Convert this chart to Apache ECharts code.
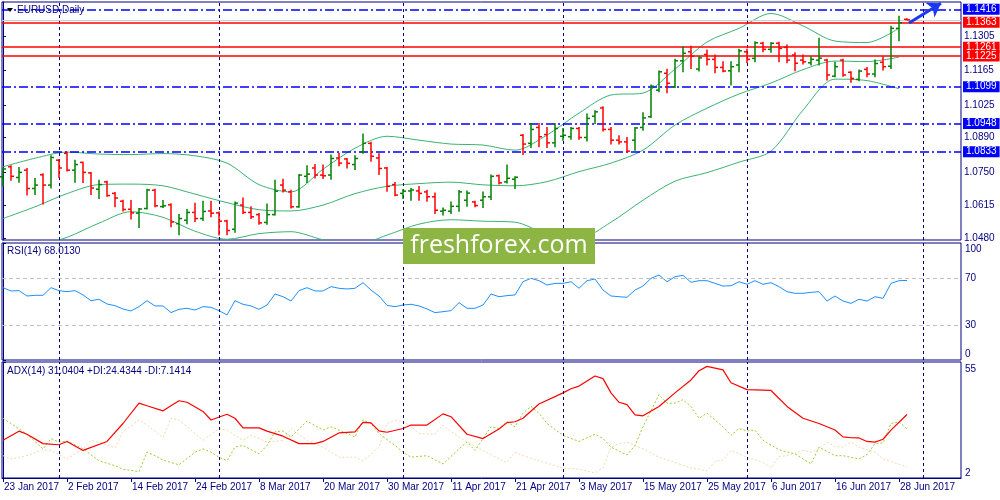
<!DOCTYPE html>
<html>
<head>
<meta charset="utf-8"/>
<title>EURUSD Daily</title>
<script src="https://cdn.jsdelivr.net/npm/echarts@6.0.0/dist/echarts.min.js"></script>
<style>
  html, body { margin: 0; padding: 0; background: #fff; }
  #chart { width: 1000px; height: 500px; }
</style>
</head>
<body>
<div id="chart"></div>
<script>
// bar index 0 = 23 Jan 2017, one bar per trading day
var dateLabels = ['23 Jan 2017', '2 Feb 2017', '14 Feb 2017', '24 Feb 2017', '8 Mar 2017', '20 Mar 2017',
  '30 Mar 2017', '11 Apr 2017', '21 Apr 2017', '3 May 2017', '15 May 2017', '25 May 2017',
  '6 Jun 2017', '16 Jun 2017', '28 Jun 2017'];
var labelBars = [0, 8, 16, 24, 32, 40, 48, 56, 64, 72, 80, 88, 96, 104, 112];
var monthStarts = [7, 27, 50, 70, 93, 115];

var priceTicks = [1.1305, 1.1165, 1.1025, 1.0890, 1.0750, 1.0615, 1.0480];
var redLevels = [1.1363, 1.1261, 1.1225];
var blueLevels = [1.1416, 1.1099, 1.0948, 1.0833];
var arrowFrom = [113.25, 1.1360];
var arrowTo = [117.25, 1.1441];

var openArr = [1.0730,1.0771,1.0727,1.0757,1.0682,1.0738,1.0696,1.0798,1.0826,1.0757,
  1.0789,1.0746,1.0679,1.0709,1.0662,1.0630,1.0597,1.0581,1.0600,1.0675,
  1.0608,1.0615,1.0538,1.0552,1.0584,1.0559,1.0590,1.0582,1.0549,1.0515,
  1.0614,1.0584,1.0575,1.0543,1.0575,1.0696,1.0668,1.0607,1.0732,1.0766,
  1.0737,1.0737,1.0807,1.0803,1.0780,1.0832,1.0867,1.0807,1.0766,1.0698,
  1.0662,1.0672,1.0672,1.0668,1.0648,1.0589,1.0589,1.0609,1.0634,1.0627,
  1.0634,1.0648,1.0734,1.0709,1.0720,1.0900,1.0867,1.0932,1.0903,1.0869,
  1.0896,1.0894,1.0928,1.0891,1.0978,1.1012,1.0924,1.0880,1.0873,1.0880,
  1.0932,1.0976,1.1085,1.1154,1.1099,1.1205,1.1242,1.1171,1.1231,1.1211,
  1.1178,1.1164,1.1188,1.1242,1.1215,1.1277,1.1252,1.1277,1.1260,1.1229,
  1.1208,1.1197,1.1208,1.1208,1.1142,1.1208,1.1158,1.1129,1.1170,1.1151,
  1.1199,1.1183,1.1338,1.1375];
var highArr = [1.0766,1.0775,1.0768,1.0764,1.0723,1.0742,1.0816,1.0801,1.0830,1.0798,
  1.0790,1.0748,1.0716,1.0712,1.0666,1.0634,1.0633,1.0600,1.0679,1.0679,
  1.0633,1.0620,1.0575,1.0596,1.0622,1.0630,1.0630,1.0586,1.0552,1.0627,
  1.0643,1.0607,1.0580,1.0618,1.0716,1.0720,1.0675,1.0739,1.0775,1.0780,
  1.0778,1.0819,1.0826,1.0805,1.0816,1.0905,1.0871,1.0824,1.0768,1.0707,
  1.0678,1.0682,1.0690,1.0675,1.0664,1.0602,1.0627,1.0674,1.0672,1.0630,
  1.0668,1.0737,1.0737,1.0778,1.0730,1.0903,1.0948,1.0948,1.0932,1.0948,
  1.0928,1.0932,1.0932,1.0987,1.1000,1.1017,1.0932,1.0898,1.0891,1.0932,
  1.0992,1.1106,1.1163,1.1170,1.1211,1.1263,1.1265,1.1222,1.1249,1.1229,
  1.1201,1.1201,1.1252,1.1252,1.1283,1.1281,1.1279,1.1281,1.1270,1.1238,
  1.1229,1.1222,1.1297,1.1211,1.1199,1.1211,1.1160,1.1167,1.1178,1.1208,
  1.1222,1.1347,1.1388,1.1377];
var lowArr = [1.0693,1.0716,1.0708,1.0655,1.0657,1.0618,1.0684,1.0727,1.0754,1.0708,
  1.0707,1.0657,1.0641,1.0650,1.0607,1.0590,1.0557,1.0522,1.0598,1.0607,
  1.0604,1.0525,1.0492,1.0538,1.0547,1.0551,1.0566,1.0491,1.0492,1.0503,
  1.0580,1.0559,1.0536,1.0536,1.0573,1.0668,1.0602,1.0605,1.0707,1.0725,
  1.0723,1.0720,1.0775,1.0766,1.0760,1.0826,1.0794,1.0739,1.0671,1.0652,
  1.0641,1.0634,1.0634,1.0630,1.0580,1.0573,1.0580,1.0589,1.0609,1.0607,
  1.0604,1.0637,1.0700,1.0705,1.0682,1.0821,1.0850,1.0853,1.0850,1.0853,
  1.0880,1.0884,1.0884,1.0877,1.0948,1.0918,1.0864,1.0864,1.0832,1.0839,
  1.0921,1.0973,1.1078,1.1074,1.1096,1.1160,1.1174,1.1163,1.1188,1.1156,
  1.1160,1.1106,1.1160,1.1197,1.1201,1.1242,1.1240,1.1201,1.1197,1.1164,
  1.1192,1.1188,1.1188,1.1126,1.1140,1.1142,1.1117,1.1123,1.1140,1.1140,
  1.1167,1.1174,1.1287,1.1372];
var closeArr = [1.0762,1.0732,1.0748,1.0682,1.0696,1.0696,1.0809,1.0766,1.0757,1.0780,
  1.0748,1.0684,1.0698,1.0653,1.0643,1.0596,1.0582,1.0598,1.0676,1.0611,
  1.0611,1.0545,1.0559,1.0584,1.0559,1.0588,1.0581,1.0548,1.0510,1.0622,
  1.0584,1.0566,1.0541,1.0575,1.0671,1.0675,1.0607,1.0737,1.0741,1.0737,
  1.0734,1.0805,1.0786,1.0785,1.0805,1.0867,1.0814,1.0764,1.0691,1.0655,
  1.0671,1.0676,1.0662,1.0648,1.0593,1.0593,1.0609,1.0668,1.0663,1.0612,
  1.0648,1.0732,1.0705,1.0724,1.0728,1.0864,1.0924,1.0894,1.0869,1.0928,
  1.0900,1.0928,1.0891,1.0969,1.0996,1.0924,1.0880,1.0873,1.0835,1.0930,
  1.0971,1.1101,1.1160,1.1113,1.1205,1.1236,1.1224,1.1217,1.1211,1.1178,
  1.1163,1.1181,1.1246,1.1211,1.1279,1.1252,1.1277,1.1256,1.1208,1.1195,
  1.1201,1.1211,1.1216,1.1147,1.1181,1.1147,1.1133,1.1163,1.1151,1.1194,
  1.1181,1.1338,1.1361,1.1373];

// Bollinger bands (20, 2) read every 4 bars
var bbStep = 4;
var bbUpper = [1.0771,1.0806,1.0831,1.0823,1.0821,1.0825,1.0816,1.0786,1.0698,1.0668,
  1.0761,1.0847,1.0896,1.0880,1.0864,1.0860,1.0839,1.0901,1.0991,1.1065,
  1.1073,1.1171,1.1282,1.1338,1.1399,1.1348,1.1286,1.1280,1.1339];
var bbMid = [1.0559,1.0607,1.0661,1.0698,1.0700,1.0693,1.0659,1.0624,1.0595,1.0590,
  1.0614,1.0661,1.0691,1.0702,1.0708,1.0697,1.0693,1.0710,1.0751,1.0786,
  1.0839,1.0942,1.1011,1.1069,1.1114,1.1169,1.1204,1.1202,1.1220];
var bbLow = [1.0429,1.0445,1.0482,1.0540,1.0587,1.0564,1.0507,1.0474,1.0497,1.0505,
  1.0472,1.0450,1.0491,1.0536,1.0554,1.0548,1.0544,1.0495,1.0478,1.0544,
  1.0634,1.0712,1.0747,1.0790,1.0835,1.1003,1.1130,1.1124,1.1091];

var rsi = [61.8,59.0,59.3,54.7,55.3,55.3,61.8,59.3,58.4,59.3,
  55.6,50.7,51.9,47.9,46.4,43.6,41.9,45.6,50.7,46.2,
  46.2,40.5,43.3,44.2,42.7,45.6,45.0,42.2,38.5,50.7,
  47.6,46.2,43.3,47.0,56.4,54.1,50.4,59.3,61.8,59.0,
  59.0,62.7,61.3,60.7,61.3,66.1,59.8,54.7,46.7,45.6,
  47.0,47.6,46.2,43.6,40.5,41.3,42.2,49.0,44.2,44.2,
  47.0,56.4,54.1,55.0,55.6,66.9,69.8,67.8,64.1,65.5,
  65.5,66.9,61.3,67.8,69.2,59.8,54.7,54.1,53.6,59.8,
  63.2,69.8,72.6,66.9,71.2,72.4,66.4,67.8,67.8,65.5,
  63.2,63.5,66.9,64.7,67.8,64.7,66.1,62.7,58.4,57.0,
  57.0,57.8,58.4,50.4,54.7,50.4,48.4,51.9,50.4,54.1,
  52.7,65.5,67.8,68.0];
var rsiTicks = [0, 30, 70, 100];
var rsiLevels = [70, 30];

// [bar, value]
var adx = [[0,19.2],[2,23.4],[3,22.0],[5,17.7],[7,17.2],[8,18.7],[10,14.6],[13,18.7],[15,26.9],[17,36.2],
  [18,35.0],[20,32.7],[22,37.3],[23,36.6],[25,32.4],[26,28.5],[28,31.1],[29,29.3],[30,24.9],[32,24.9],
  [33,23.4],[35,21.1],[37,17.7],[39,17.7],[40,18.7],[42,22.6],[44,23.1],[45,27.4],[46,27.2],[47,23.5],
  [48,22.9],[50,24.6],[51,26.2],[53,26.2],[55,31.3],[56,30.0],[58,22.0],[60,20.0],[62,24.4],[63,27.3],
  [64,27.7],[65,29.3],[67,35.8],[70,40.9],[71,42.8],[72,44.0],[74,48.6],[75,47.4],[76,40.9],[77,36.6],
  [78,35.5],[79,30.8],[80,30.4],[82,34.7],[84,40.9],[86,46.8],[87,51.0],[88,53.0],[90,51.4],[91,45.5],
  [93,42.4],[96,42.0],[98,34.7],[100,29.3],[102,26.9],[104,23.9],[105,20.8],[106,20.4],[107,20.3],[108,18.7],
  [109,18.4],[110,19.7],[111,23.9],[113,31.0]];
var plusDi = [[0,29.3],[1,26.9],[3,22.0],[5,15.3],[6,20.0],[7,18.4],[8,18.9],[10,15.3],[12,9.9],[14,7.6],
  [15,6.0],[17,4.9],[18,13.8],[19,12.2],[20,10.2],[22,8.0],[24,13.8],[25,15.3],[26,13.8],[27,11.5],
  [28,9.9],[29,16.1],[30,16.9],[32,13.0],[33,16.9],[34,23.1],[35,23.5],[36,20.7],[38,28.0],[40,23.9],
  [41,25.4],[42,23.9],[44,20.7],[45,28.5],[46,26.9],[47,22.3],[49,16.9],[50,13.8],[51,11.5],[53,12.2],
  [55,8.4],[57,15.3],[58,18.4],[59,14.6],[61,25.4],[62,24.6],[63,27.7],[64,25.4],[65,31.6],[66,34.7],
  [67,31.6],[68,26.9],[70,21.5],[72,18.7],[74,22.0],[75,20.0],[76,16.1],[78,12.5],[79,16.9],[80,25.4],
  [82,40.1],[83,36.2],[84,36.2],[85,37.8],[86,34.7],[87,29.3],[88,31.6],[90,25.4],[91,21.5],[92,24.6],
  [93,23.5],[94,23.9],[95,19.2],[97,14.9],[99,13.0],[101,8.4],[102,16.1],[104,12.2],[105,12.2],[107,10.7],
  [108,12.7],[109,17.7],[110,18.0],[111,26.9],[112,27.7],[113,24.4]];
var minusDi = [[0,12.2],[1,10.7],[3,12.2],[5,14.9],[6,14.6],[8,10.7],[10,15.3],[11,19.2],[12,18.4],[14,15.8],
  [15,23.1],[17,28.5],[18,26.2],[20,20.4],[21,29.3],[22,28.5],[24,22.3],[25,19.2],[27,24.6],[28,23.9],
  [30,19.2],[31,21.5],[33,18.4],[35,19.2],[36,24.6],[38,19.2],[40,16.1],[42,11.5],[44,11.5],[45,9.9],
  [47,16.1],[48,26.9],[49,28.5],[50,27.7],[51,25.7],[52,22.3],[54,22.0],[55,26.2],[56,23.1],[58,18.4],
  [60,14.6],[62,10.7],[63,9.1],[64,13.8],[65,12.2],[67,9.9],[70,6.6],[72,6.0],[74,4.3],[75,6.6],
  [76,16.1],[77,17.7],[78,18.4],[80,15.3],[82,11.5],[84,9.1],[86,6.5],[87,6.0],[88,5.2],[89,9.6],
  [90,10.2],[91,14.6],[93,11.5],[95,9.1],[96,6.6],[97,11.8],[98,12.2],[100,14.6],[101,13.8],[102,15.3],
  [103,18.4],[104,16.4],[105,16.1],[106,18.4],[107,16.1],[109,13.8],[110,10.7],[113,7.1]];
var adxTicks = [2, 55];

var navy = '#000080';
var font = 'Liberation Sans';

var chart = echarts.init(document.getElementById('chart'));

function bandData(arr) {
  return arr.map(function (v, k) { return [k * bbStep, v]; });
}

function monthLines() {
  return monthStarts.map(function (b) { return { xAxis: b }; });
}

var monthMark = {
  silent: true, symbol: 'none', animation: false,
  label: { show: false },
  lineStyle: { color: navy, type: [3, 3], width: 1 },
  data: monthLines()
};

function xAxisFor(g, showLabels) {
  return {
    type: 'value', gridIndex: g, min: -0.125, max: 119.75,
    splitLine: { show: false },
    axisLine: { show: showLabels, lineStyle: { color: navy } },
    axisTick: { show: showLabels, customValues: labelBars, length: 4, lineStyle: { color: navy } },
    axisLabel: {
      show: showLabels, customValues: labelBars, align: 'left', margin: 4,
      color: navy, fontSize: 10, fontFamily: font, padding: [0, 0, 0, 1],
      formatter: function (v) { return dateLabels[labelBars.indexOf(v)]; }
    }
  };
}

function levelItem(v, bg) {
  return {
    yAxis: v,
    lineStyle: bg === 'red'
      ? { color: '#ff0000', type: 'solid', width: 1.5 }
      : { color: '#0000ff', type: [9, 3, 2, 3], width: 1.5 },
    label: {
      show: true, position: 'end', distance: 2,
      formatter: v.toFixed(4),
      color: '#fff', fontSize: 10, fontFamily: font,
      backgroundColor: bg === 'red' ? '#ff0000' : '#0000ff',
      padding: [1, 3, 0, 3]
    }
  };
}

var levelData = [];
blueLevels.forEach(function (v) { levelData.push(levelItem(v, 'blue')); });
redLevels.forEach(function (v) { levelData.push(levelItem(v, 'red')); });

var ohlc = openArr.map(function (o, i) {
  return [i, o, highArr[i], lowArr[i], closeArr[i]];
});

var option = {
  animation: false,
  backgroundColor: '#fff',
  textStyle: { fontFamily: font },
  grid: [
    { left: 2, right: 39, top: 2, height: 238, show: true, borderColor: navy, borderWidth: 1, backgroundColor: '#fff' },
    { left: 2, right: 39, top: 243, height: 117, show: true, borderColor: navy, borderWidth: 1, backgroundColor: '#fff' },
    { left: 2, right: 39, top: 362, height: 116, show: true, borderColor: navy, borderWidth: 1, backgroundColor: '#fff' }
  ],
  xAxis: [xAxisFor(0, false), xAxisFor(1, false), xAxisFor(2, true)],
  yAxis: [
    {
      type: 'value', gridIndex: 0, position: 'right', min: 1.0471, max: 1.1446,
      splitLine: { show: false },
      axisLine: { show: true, lineStyle: { color: navy } },
      axisTick: { show: true, customValues: priceTicks, length: 3, lineStyle: { color: navy } },
      axisLabel: {
        customValues: priceTicks, color: navy, fontSize: 10, margin: 3,
        formatter: function (v) { return v.toFixed(4); }
      }
    },
    {
      type: 'value', gridIndex: 1, position: 'right', min: 0, max: 100,
      splitLine: { show: false },
      axisLine: { show: true, lineStyle: { color: navy } },
      axisTick: { show: true, customValues: rsiTicks, length: 3, lineStyle: { color: navy } },
      axisLabel: {
        customValues: rsiTicks, color: navy, fontSize: 10, margin: 4,
        formatter: function (v) {
          if (v === 100) return '{top|100}';
          if (v === 0) return '{bot|0}';
          return String(v);
        },
        rich: {
          top: { padding: [12, 0, 0, 0], color: navy, fontSize: 10 },
          bot: { padding: [0, 0, 12, 0], color: navy, fontSize: 10 }
        }
      }
    },
    {
      type: 'value', gridIndex: 2, position: 'right', min: 2, max: 55,
      splitLine: { show: false },
      axisLine: { show: true, lineStyle: { color: navy } },
      axisTick: { show: true, customValues: adxTicks, length: 3, lineStyle: { color: navy } },
      axisLabel: {
        customValues: adxTicks, color: navy, fontSize: 10, margin: 4,
        formatter: function (v) {
          if (v === 55) return '{top|55}';
          if (v === 2) return '{bot|2}';
          return String(v);
        },
        rich: {
          top: { padding: [14, 0, 0, 0], color: navy, fontSize: 10 },
          bot: { padding: [0, 0, 10, 0], color: navy, fontSize: 10 }
        }
      }
    }
  ],
  series: [
    {
      name: 'BB upper', type: 'line', xAxisIndex: 0, yAxisIndex: 0,
      data: bandData(bbUpper), showSymbol: false, smooth: 0.3,
      lineStyle: { color: '#3cb371', width: 1 },
      markLine: monthMark
    },
    {
      name: 'BB middle', type: 'line', xAxisIndex: 0, yAxisIndex: 0,
      data: bandData(bbMid), showSymbol: false, smooth: 0.3,
      lineStyle: { color: '#3cb371', width: 1 },
      markLine: {
        silent: true, symbol: 'none', animation: false, precision: 4,
        data: [{
          yAxis: closeArr[closeArr.length - 1],
          lineStyle: { color: '#cfcfcf', type: 'solid', width: 1 },
          label: { show: false }
        }].concat(levelData)
      }
    },
    {
      name: 'BB lower', type: 'line', xAxisIndex: 0, yAxisIndex: 0,
      data: bandData(bbLow), showSymbol: false, smooth: 0.3,
      lineStyle: { color: '#3cb371', width: 1 }
    },
    {
      name: 'EURUSD', type: 'custom', xAxisIndex: 0, yAxisIndex: 0,
      data: ohlc, encode: { x: 0, y: [1, 2, 3, 4] }, z: 5,
      renderItem: function (params, api) {
        var i = api.value(0);
        var o = api.coord([i, api.value(1)]);
        var h = api.coord([i, api.value(2)]);
        var l = api.coord([i, api.value(3)]);
        var c = api.coord([i, api.value(4)]);
        var w = api.size([1, 0])[0] * 0.38;
        var col = api.value(4) >= api.value(1) ? '#008000' : '#ff0000';
        var st = { stroke: col, lineWidth: 1.5 };
        return {
          type: 'group',
          children: [
            { type: 'line', shape: { x1: h[0], y1: h[1] - 0.5, x2: l[0], y2: l[1] + 0.5 }, style: st },
            { type: 'line', shape: { x1: o[0] - w, y1: o[1], x2: o[0], y2: o[1] }, style: st },
            { type: 'line', shape: { x1: c[0], y1: c[1], x2: c[0] + w, y2: c[1] }, style: st }
          ]
        };
      },
      markLine: {
        silent: true, animation: false, z: 10, precision: 4,
        label: { show: false },
        lineStyle: { color: '#1a3af0', width: 3, type: 'solid' },
        symbol: ['none', 'arrow'], symbolSize: 13,
        data: [[{ coord: arrowFrom }, { coord: arrowTo }]]
      }
    },
    {
      name: 'RSI', type: 'line', xAxisIndex: 1, yAxisIndex: 1,
      data: rsi.map(function (v, i) { return [i, v]; }), showSymbol: false,
      lineStyle: { color: '#1e90ff', width: 1 },
      markLine: {
        silent: true, symbol: 'none', animation: false,
        label: { show: false },
        data: rsiLevels.map(function (v) {
          return { yAxis: v, lineStyle: { color: '#c0c0c0', type: [4, 3], width: 1 } };
        }).concat(monthLines().map(function (d) {
          return { xAxis: d.xAxis, lineStyle: { color: navy, type: [3, 3], width: 1 } };
        }))
      }
    },
    {
      name: '-DI', type: 'line', xAxisIndex: 2, yAxisIndex: 2,
      data: minusDi, showSymbol: false,
      lineStyle: { color: '#f5d9ae', width: 1, type: [2, 2] },
      markLine: monthMark
    },
    {
      name: '+DI', type: 'line', xAxisIndex: 2, yAxisIndex: 2,
      data: plusDi, showSymbol: false,
      lineStyle: { color: '#9acd32', width: 1, type: [2, 2] }
    },
    {
      name: 'ADX', type: 'line', xAxisIndex: 2, yAxisIndex: 2,
      data: adx, showSymbol: false,
      lineStyle: { color: '#ff0000', width: 1.2 }
    }
  ],
  graphic: [
    { type: 'polygon', shape: { points: [[7, 8], [13, 8], [10, 12]] }, style: { fill: '#000' }, z: 50 },
    { type: 'text', left: 17, top: 5, z: 50, style: { text: 'EURUSD,Daily', fill: navy, font: '10px ' + font } },
    { type: 'text', left: 7, top: 246, z: 50, style: { text: 'RSI(14) 68.0130', fill: navy, font: '10px ' + font } },
    { type: 'text', left: 7, top: 366, z: 50, style: { text: 'ADX(14) 31.0404 +DI:24.4344 -DI:7.1414', fill: navy, font: '10px ' + font } },
    { type: 'rect', shape: { x: 403, y: 228, width: 192, height: 36 }, style: { fill: '#8db543' }, z: 100 },
    {
      type: 'text', x: 499, y: 246, z: 101,
      style: { text: 'freshforex.com', fill: '#fff', font: '25px "Open Sans"', align: 'center', verticalAlign: 'middle' }
    }
  ]
};

chart.setOption(option);
</script>
</body>
</html>
